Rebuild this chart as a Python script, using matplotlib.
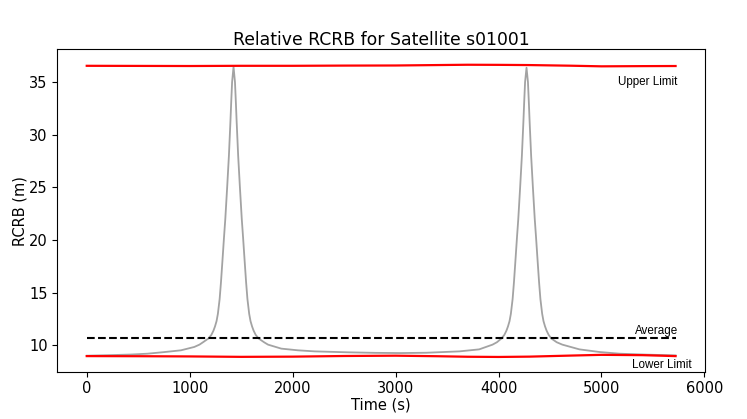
import matplotlib
matplotlib.use("Agg")
import matplotlib.pyplot as plt
from matplotlib import font_manager as fm

# --- data ---
time_s = [0, 250, 430, 590, 750, 915, 1045, 1095, 1130, 1183, 1211, 1231, 1246, 1261, 1274, 1291, 1304, 1318,
          1333, 1346, 1364, 1381, 1396, 1403, 1412, 1426,
          1440, 1449, 1456, 1471, 1488, 1506, 1519, 1534, 1548, 1561, 1578, 1591, 1606, 1621, 1641, 1669,
          1722, 1761, 1890, 2052, 2214, 2540, 2800, 3050,
          3300, 3620, 3812, 3942, 3985, 4029, 4057, 4077, 4092, 4107, 4120, 4137, 4150, 4164, 4179, 4192,
          4210, 4227, 4242, 4249, 4258, 4272,
          4286, 4295, 4302, 4317, 4334, 4352, 4365, 4380, 4394, 4407, 4424, 4437, 4452, 4467, 4487, 4512,
          4565, 4620, 4786, 4981, 5175, 5435, 5720]
rcrb_m = [9.02, 9.08, 9.13, 9.21, 9.36, 9.53, 9.85, 10.07, 10.3, 10.66, 11.0, 11.4, 11.8, 12.3, 13.0, 14.4, 16.0, 18.0,
          20.2, 22.0, 25.0, 28.0, 31.3, 33.0, 35.0, 36.45,
          35.0, 33.0, 31.3, 28.0, 25.0, 22.0, 20.2, 18.0, 16.0, 14.4, 13.0, 12.3, 11.8, 11.4, 11.0, 10.66,
          10.3, 10.07, 9.69, 9.53, 9.43, 9.34, 9.29, 9.27,
          9.30, 9.43, 9.62, 10.07, 10.3, 10.66, 11.0, 11.4, 11.8, 12.3, 13.0, 14.4, 16.0, 18.0, 20.2, 22.0,
          25.0, 28.0, 31.3, 33.0, 35.0, 36.37,
          35.0, 33.0, 31.3, 28.0, 25.0, 22.0, 20.2, 18.0, 16.0, 14.4, 13.0, 12.3, 11.8, 11.4, 11.0, 10.66,
          10.3, 10.07, 9.62, 9.37, 9.21, 9.12, 9.05]

limit_time = [0, 500, 1000, 1500, 2000, 2500, 3000, 3400, 3700, 4000, 4300, 4700, 5000, 5400, 5720]
upper_limit = [36.55, 36.54, 36.53, 36.55, 36.55, 36.57, 36.58, 36.62, 36.65, 36.64, 36.62, 36.56, 36.50, 36.52, 36.53]
lower_limit = [8.98, 8.97, 8.95, 8.91, 8.93, 8.99, 9.02, 8.97, 8.92, 8.90, 8.93, 9.03, 9.10, 9.07, 8.98]

average_value = 10.73
avg_time = [0, 5720]

title = "Relative RCRB for Satellite s01001"
xlabel = "Time (s)"
ylabel = "RCRB (m)"

# pick the regular (not narrow) Liberation Sans for the annotations
ann_path = None
for f in fm.fontManager.ttflist:
    if f.name == "Liberation Sans" and "Narrow" not in f.fname and f.style == "normal" and f.weight in (400, "normal", "regular"):
        ann_path = f.fname
        break
if ann_path:
    ann_prop = fm.FontProperties(fname=ann_path, size=8.4)
else:
    ann_prop = fm.FontProperties(family="DejaVu Sans", size=8.0)

fig = plt.figure(figsize=(7.47, 4.19), dpi=100)
ax = fig.add_axes([0.0767, 0.1129, 0.8671, 0.769])

ax.plot(time_s, rcrb_m, color="#a3a3a3", lw=1.3)
ax.plot(limit_time, upper_limit, color="red", lw=1.6)
ax.plot(limit_time, lower_limit, color="red", lw=1.6)
ax.plot(avg_time, [average_value, average_value], color="black", ls="--", lw=1.5)

ax.text(5733, 34.74, "Upper Limit", ha="right", va="baseline", fontproperties=ann_prop)
ax.text(5743, 11.04, "Average", ha="right", va="baseline", fontproperties=ann_prop)
ax.text(5878, 7.82, "Lower Limit", ha="right", va="baseline", fontproperties=ann_prop)

ax.set_xlim(-286, 6006)
ax.set_ylim(7.5, 38.1)
ax.set_xticks([0, 1000, 2000, 3000, 4000, 5000, 6000])
ax.set_yticks([10, 15, 20, 25, 30, 35])
ax.tick_params(labelsize=10.5)
ax.set_title(title, fontsize=12.4, pad=3.3)
ax.set_xlabel(xlabel, fontsize=10.5, labelpad=1)
ax.set_ylabel(ylabel, fontsize=10.5, labelpad=1)

fig.savefig("out.png", dpi=100)
